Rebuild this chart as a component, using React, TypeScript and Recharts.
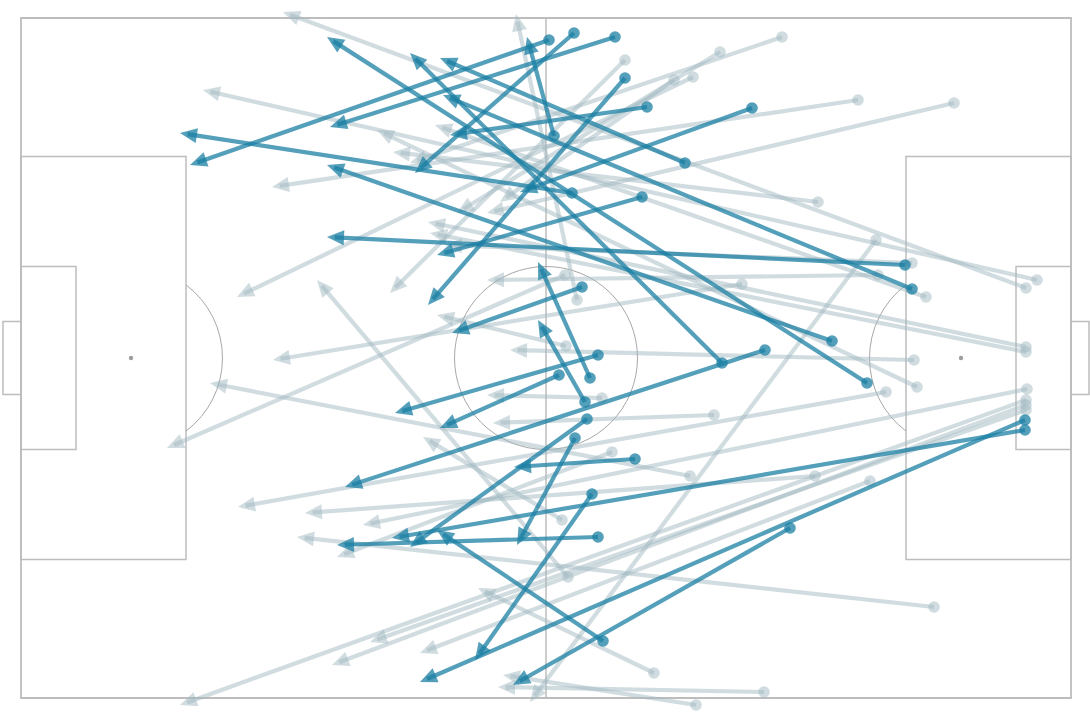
import React from 'react';
import { ComposedChart, XAxis, YAxis, ReferenceLine, ReferenceArea, ReferenceDot } from 'recharts';

// Pass = [startX, startY, endX, endY] in metres on a 105 x 68 pitch (y measured from the top touchline)
type Pass = [number, number, number, number];

const keyPasses: Pass[] = [
  [52.8, 2.2, 16.9, 14.7],
  [55.3, 1.5, 39.4, 15.5],
  [59.4, 1.9, 30.9, 10.9],
  [60.4, 6.0, 40.7, 28.7],
  [62.6, 8.9, 42.9, 11.7],
  [73.1, 9.0, 49.9, 17.4],
  [66.4, 14.5, 41.9, 4.0],
  [55.1, 17.5, 15.9, 11.5],
  [62.1, 17.9, 41.6, 23.7],
  [53.3, 11.8, 50.6, 1.9],
  [88.4, 24.7, 30.6, 21.9],
  [89.1, 27.1, 42.2, 7.7],
  [56.1, 26.9, 43.1, 31.5],
  [57.7, 33.7, 37.4, 39.5],
  [53.8, 35.7, 41.9, 41.0],
  [56.9, 36.0, 51.7, 24.4],
  [56.4, 38.4, 51.7, 30.2],
  [56.6, 40.1, 38.9, 52.9],
  [55.4, 42.0, 49.6, 52.7],
  [61.4, 44.1, 49.3, 44.9],
  [70.1, 34.5, 38.9, 3.5],
  [74.4, 33.2, 32.4, 46.9],
  [81.1, 32.3, 30.6, 14.7],
  [84.6, 36.5, 30.6, 1.9],
  [57.1, 47.6, 45.4, 64.2],
  [57.7, 51.9, 31.6, 52.7],
  [58.2, 62.3, 41.6, 51.2],
  [76.9, 51.0, 49.2, 66.7],
  [100.4, 40.2, 39.9, 66.4],
  [100.4, 41.2, 37.1, 52.0],
];

const otherPasses: Pass[] = [
  [100.5, 27.0, 26.2, -0.6],
  [101.6, 26.2, 18.2, 7.2],
  [83.7, 8.2, 25.1, 16.9],
  [93.3, 8.5, 46.6, 19.5],
  [60.4, 4.2, 36.9, 27.5],
  [67.2, 5.9, 21.6, 27.9],
  [69.9, 3.4, 43.6, 19.5],
  [65.3, 6.2, 47.9, 18.4],
  [76.1, 1.9, 38.9, 14.5],
  [85.5, 22.2, 50.9, 68.4],
  [54.4, 25.7, 14.6, 43.0],
  [89.1, 24.5, 42.4, 22.7],
  [85.7, 25.7, 46.6, 26.2],
  [90.5, 27.9, 41.4, 10.7],
  [79.7, 18.4, 37.2, 13.4],
  [55.6, 28.2, 49.5, -0.4],
  [89.3, 34.2, 48.9, 33.2],
  [54.5, 32.8, 41.6, 29.7],
  [58.1, 38.0, 46.6, 37.7],
  [66.9, 45.8, 18.9, 36.5],
  [69.3, 39.7, 47.2, 40.5],
  [59.1, 43.4, 31.6, 53.9],
  [86.5, 37.4, 21.7, 48.9],
  [84.9, 46.3, 39.9, 63.5],
  [72.1, 26.6, 25.2, 34.2],
  [89.6, 36.9, 35.6, 11.2],
  [100.5, 32.9, 40.7, 20.4],
  [100.5, 33.4, 40.9, 21.5],
  [100.6, 37.1, 34.2, 50.7],
  [100.5, 38.2, 15.9, 68.7],
  [100.5, 38.7, 31.1, 64.7],
  [100.5, 39.2, 34.9, 62.4],
  [54.1, 50.2, 40.2, 41.9],
  [54.7, 55.9, 29.6, 26.2],
  [63.3, 65.5, 45.7, 57.0],
  [74.3, 67.4, 47.7, 66.9],
  [67.5, 68.7, 48.2, 65.7],
  [91.3, 58.9, 27.6, 51.9],
  [79.4, 45.8, 28.4, 49.5],
];

// Pitch dimensions (metres)
const pitchLength = 105;
const pitchWidth = 68;
const boxDepth = 16.5;
const boxWidth = 40.32;
const sixDepth = 5.5;
const sixWidth = 18.32;
const goalWidth = 7.32;
const goalDepth = 1.8;
const spotDist = 11;
const circleRadius = 9.15;

const LINE = '#bdbdbd';
const THIN = '#a8a8a8';
const KEY = '#1b7fa3';
const OTHER = '#a1bac2';

const makeArrow = (color: string, opacity: number) => (props: any) => {
  const { x1, y1, x2, y2 } = props;
  const dx = x2 - x1;
  const dy = y2 - y1;
  const len = Math.sqrt(dx * dx + dy * dy) || 1;
  const ux = dx / len;
  const uy = dy / len;
  const L = 17;
  const hw = 7.5;
  const bx = x2 - ux * L;
  const by = y2 - uy * L;
  const px = -uy;
  const py = ux;
  const lx = x2 - ux * L * 0.45;
  const ly = y2 - uy * L * 0.45;
  return (
    <g>
      <line x1={x1} y1={y1} x2={lx} y2={ly} stroke={color} strokeOpacity={opacity} strokeWidth={4.2} />
      <polygon
        points={`${x2},${y2} ${bx + px * hw},${by + py * hw} ${bx - px * hw},${by - py * hw}`}
        fill={color}
        fillOpacity={opacity}
      />
      <circle cx={x1} cy={y1} r={5.8} fill={color} fillOpacity={opacity} />
    </g>
  );
};

const circleShape = (props: any) => {
  const { x1, y1, x2 } = props;
  const r = Math.abs(x2 - x1);
  return <circle cx={x1} cy={y1} r={r} fill="none" stroke={THIN} strokeWidth={1} />;
};

const arcShape = (side: 'left' | 'right') => (props: any) => {
  const { x1, y1, x2 } = props;
  const r = Math.abs(x2 - x1);
  const off = r * ((boxDepth - spotDist) / circleRadius);
  const h = Math.sqrt(r * r - off * off);
  const sx = side === 'left' ? x1 + off : x1 - off;
  const sweep = side === 'left' ? 1 : 0;
  const d = `M ${sx} ${y1 - h} A ${r} ${r} 0 0 ${sweep} ${sx} ${y1 + h}`;
  return <path d={d} fill="none" stroke={THIN} strokeWidth={1} />;
};

const keyArrow = makeArrow(KEY, 0.75);
const otherArrow = makeArrow(OTHER, 0.5);

export default function App() {
  const midY = pitchWidth / 2;
  return (
    <div style={{ position: 'absolute', left: 0, top: 0, width: 1090, height: 720, background: '#ffffff' }}>
      <ComposedChart width={1090} height={720} margin={{ top: 0, right: 0, bottom: 0, left: 0 }} data={[]}>
        <XAxis type="number" dataKey="x" domain={[-2.1, 106.9]} allowDataOverflow hide />
        <YAxis type="number" dataKey="y" domain={[-1.8, 70.2]} allowDataOverflow reversed hide />

        {/* pitch */}
        <ReferenceArea x1={0} x2={pitchLength} y1={0} y2={pitchWidth} fill="none" fillOpacity={0} stroke={LINE} strokeWidth={1.8} ifOverflow="visible" />
        <ReferenceArea x1={0} x2={boxDepth} y1={midY - boxWidth / 2} y2={midY + boxWidth / 2} fill="none" fillOpacity={0} stroke={LINE} strokeWidth={1.5} ifOverflow="visible" />
        <ReferenceArea x1={pitchLength - boxDepth} x2={pitchLength} y1={midY - boxWidth / 2} y2={midY + boxWidth / 2} fill="none" fillOpacity={0} stroke={LINE} strokeWidth={1.5} ifOverflow="visible" />
        <ReferenceArea x1={0} x2={sixDepth} y1={midY - sixWidth / 2} y2={midY + sixWidth / 2} fill="none" fillOpacity={0} stroke={LINE} strokeWidth={1.5} ifOverflow="visible" />
        <ReferenceArea x1={pitchLength - sixDepth} x2={pitchLength} y1={midY - sixWidth / 2} y2={midY + sixWidth / 2} fill="none" fillOpacity={0} stroke={LINE} strokeWidth={1.5} ifOverflow="visible" />
        <ReferenceArea x1={-goalDepth} x2={0} y1={midY - goalWidth / 2} y2={midY + goalWidth / 2} fill="none" fillOpacity={0} stroke={LINE} strokeWidth={1.5} ifOverflow="visible" />
        <ReferenceArea x1={pitchLength} x2={pitchLength + goalDepth} y1={midY - goalWidth / 2} y2={midY + goalWidth / 2} fill="none" fillOpacity={0} stroke={LINE} strokeWidth={1.5} ifOverflow="visible" />
        <ReferenceLine segment={[{ x: pitchLength / 2, y: 0 }, { x: pitchLength / 2, y: pitchWidth }]} stroke={LINE} strokeWidth={1.5} ifOverflow="visible" />
        <ReferenceLine segment={[{ x: pitchLength / 2, y: midY }, { x: pitchLength / 2 + circleRadius, y: midY }]} shape={circleShape} ifOverflow="visible" />
        <ReferenceLine segment={[{ x: spotDist, y: midY }, { x: spotDist + circleRadius, y: midY }]} shape={arcShape('left')} ifOverflow="visible" />
        <ReferenceLine segment={[{ x: pitchLength - spotDist, y: midY }, { x: pitchLength - spotDist + circleRadius, y: midY }]} shape={arcShape('right')} ifOverflow="visible" />
        <ReferenceDot x={spotDist} y={midY} r={2.2} fill="#9e9e9e" stroke="none" ifOverflow="visible" />
        <ReferenceDot x={pitchLength - spotDist} y={midY} r={2.2} fill="#9e9e9e" stroke="none" ifOverflow="visible" />

        {/* passes */}
        {otherPasses.map((p, i) => (
          <ReferenceLine key={`o${i}`} segment={[{ x: p[0], y: p[1] }, { x: p[2], y: p[3] }]} shape={otherArrow} ifOverflow="visible" />
        ))}
        {keyPasses.map((p, i) => (
          <ReferenceLine key={`k${i}`} segment={[{ x: p[0], y: p[1] }, { x: p[2], y: p[3] }]} shape={keyArrow} ifOverflow="visible" />
        ))}
      </ComposedChart>
    </div>
  );
}
